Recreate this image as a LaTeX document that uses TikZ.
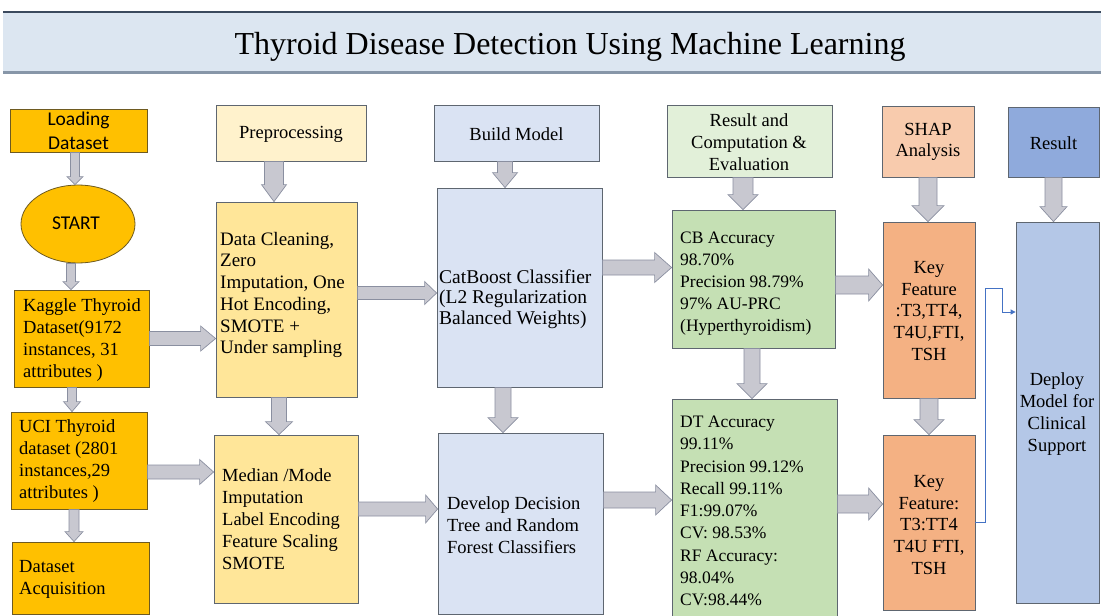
\documentclass[tikz,border=0pt]{standalone}
\usepackage{fontspec}
\setmainfont{Liberation Serif}
\newfontfamily\calfont{Carlito}
\usetikzlibrary{calc,arrows.meta,shapes.geometric}

\definecolor{orng}{HTML}{FFC000}
\definecolor{orline}{HTML}{6E5A20}
\definecolor{creamA}{HTML}{FFF2CC}
\definecolor{creamB}{HTML}{FFE699}
\definecolor{blueA}{HTML}{DAE3F3}
\definecolor{greenA}{HTML}{E2F0D9}
\definecolor{greenB}{HTML}{C5E0B4}
\definecolor{peachA}{HTML}{F8CBAD}
\definecolor{peachB}{HTML}{F4B183}
\definecolor{blueB}{HTML}{8FAADC}
\definecolor{blueC}{HTML}{B4C7E7}
\definecolor{boxline}{HTML}{5E6670}
\definecolor{arrfill}{HTML}{C8C8D0}
\definecolor{arrline}{HTML}{8A8FA0}
\definecolor{bannerfill}{HTML}{DCE6F1}
\definecolor{bannertop}{HTML}{3B4A5E}
\definecolor{bannerbot}{HTML}{8796A8}
\definecolor{linkblue}{HTML}{4472C4}

\tikzset{
  bx/.style={draw=boxline, line width=0.8pt, inner sep=0pt},
  obx/.style={draw=orline, line width=0.8pt, inner sep=0pt, fill=orng},
  txt/.style={inner sep=0pt, align=left, font=\fontsize{18.5}{22}\selectfont},
  ctxt/.style={inner sep=0pt, align=center, font=\fontsize{18.5}{21.7}\selectfont},
  ctext/.style={inner sep=0pt, align=center, font=\calfont\fontsize{19.5}{24.5}\selectfont},
  blk/.style={fill=arrfill, draw=arrline, line width=0.7pt, line join=miter},
  link/.style={draw=linkblue, line width=0.8pt, -{Triangle[length=5pt,width=5pt]}}
}

% block arrow core: uses coordinates baS (start) and baE (tip)
\newcommand{\barr}[3]{%
  \path ($(baE)!#3!(baS)$) coordinate (baH);
  \filldraw[blk] ($(baS)!#1!90:(baE)$) -- ($(baH)!#1!90:(baE)$) -- ($(baH)!#2!90:(baE)$) -- (baE)
     -- ($(baH)!#2!-90:(baE)$) -- ($(baH)!#1!-90:(baE)$) -- ($(baS)!#1!-90:(baE)$) -- cycle;}
\newcommand{\harr}[5]{\path #1 coordinate (baS); \path (baS -| #2) coordinate (baE); \barr{#3}{#4}{#5}}
\newcommand{\varr}[5]{\path #1 coordinate (baS); \path (baS |- #2) coordinate (baE); \barr{#3}{#4}{#5}}

\begin{document}
\begin{tikzpicture}[x=1pt,y=-1pt]
\useasboundingbox (0,0) rectangle (1101,616);
\fill[white] (0,0) rectangle (1101,616);

% banner
\node[fill=bannerfill, minimum width=1098pt, minimum height=60pt, inner sep=0pt, anchor=north west] (banner) at (3,12) {};
\draw[bannertop, line width=1.2pt] (banner.north west) -- (banner.north east);
\draw[bannerbot, line width=2.5pt] (banner.south west) -- (banner.south east);
\node[inner sep=0pt, anchor=base, font=\fontsize{32}{36}\selectfont] (title) at (570,54) {Thyroid Disease Detection Using Machine Learning};

% column 1
\node[obx, minimum width=137pt, minimum height=43pt] (load) at (78.5,130.5) {};
\node[ctext] (loadt) at (78.5,131) {Loading\\Dataset};
\node[ellipse, obx, minimum width=114pt, minimum height=78pt] (start) at (78,224) {};
\node[ctext] (startt) at (76,223) {START};
\node[obx, minimum width=135pt, minimum height=97pt] (kaggle) at (81.5,338.5) {};
\node[txt, anchor=west] (kagglet) at (23,340) {Kaggle Thyroid\\Dataset(9172\\instances, 31\\attributes )};
\node[obx, minimum width=136pt, minimum height=97pt] (uci) at (79,460.5) {};
\node[txt, anchor=west] (ucit) at (19,461) {UCI Thyroid\\dataset (2801\\instances,29\\attributes )};
\node[obx, minimum width=137pt, minimum height=72pt] (acq) at (80.5,578) {};
\node[txt, anchor=west] (acqt) at (19,579) {Dataset\\Acquisition};

% column 2
\node[bx, fill=creamA, minimum width=150pt, minimum height=56pt] (pre) at (291,133) {};
\node[ctxt] (pret) at (291,134) {Preprocessing};
\node[bx, fill=creamB, minimum width=141pt, minimum height=195pt] (dc) at (286.5,299.5) {};
\node[txt, anchor=west, font=\fontsize{19}{21.7}\selectfont] (dct) at (220,295) {Data Cleaning,\\Zero\\Imputation, One\\Hot Encoding,\\SMOTE +\\Under sampling};
\node[bx, fill=creamB, minimum width=144pt, minimum height=168pt] (med) at (286,519) {};
\node[txt, anchor=west] (medt) at (222,519) {Median /Mode\\Imputation\\Label Encoding\\Feature Scaling\\SMOTE};

% column 3
\node[bx, fill=blueA, minimum width=165pt, minimum height=56pt] (bm) at (516.5,133) {};
\node[ctxt] (bmt) at (516.5,134) {Build Model};
\node[bx, fill=blueA, minimum width=165pt, minimum height=199pt] (cat) at (519.5,287.5) {};
\node[txt, anchor=west, font=\fontsize{19.5}{20.5}\selectfont] (catt) at (439,299) {CatBoost Classifier\\(L2 Regularization\\Balanced Weights)};
\node[bx, fill=blueA, minimum width=165pt, minimum height=181pt] (dev) at (520.5,523.5) {};
\node[txt, anchor=west] (devt) at (447,525) {Develop Decision\\Tree and Random\\Forest Classifiers};

% column 4
\node[bx, fill=greenA, minimum width=165pt, minimum height=72pt] (rce) at (749.5,141) {};
\node[ctxt] (rcet) at (749,142) {Result and\\Computation \&\\Evaluation};
\node[bx, fill=greenB, minimum width=163pt, minimum height=138pt] (cb) at (753.5,279) {};
\node[txt, anchor=west, font=\fontsize{17.5}{22}\selectfont] (cbt) at (680,284) {CB Accuracy\\98.70\%\\Precision 98.79\%\\97\% AU-PRC\\(Hyperthyroidism)};
\node[bx, fill=greenB, minimum width=165pt, minimum height=219pt] (dt) at (754.5,508.5) {};
\node[txt, anchor=west, font=\fontsize{17.5}{22.25}\selectfont] (dtt) at (680,511) {DT Accuracy\\99.11\%\\Precision 99.12\%\\Recall 99.11\%\\F1:99.07\%\\CV: 98.53\%\\RF Accuracy:\\98.04\%\\CV:98.44\%};

% column 5
\node[bx, fill=peachA, minimum width=92pt, minimum height=71pt] (shap) at (928,141.5) {};
\node[ctxt] (shapt) at (928,142) {SHAP\\Analysis};
\node[bx, fill=peachB, minimum width=92pt, minimum height=176pt] (key1) at (929,310) {};
\node[ctxt] (key1t) at (929,311) {Key\\Feature\\:T3,TT4,\\T4U,FTI,\\TSH};
\node[bx, fill=peachB, minimum width=92pt, minimum height=175pt] (key2) at (929,522.5) {};
\node[ctxt] (key2t) at (929,525) {Key\\Feature:\\T3:TT4\\T4U FTI,\\TSH};

% column 6
\node[bx, fill=blueB, minimum width=91pt, minimum height=70pt] (res) at (1053.5,142) {};
\node[ctxt] (rest) at (1053.5,143) {Result};
\node[bx, fill=blueC, minimum width=83pt, minimum height=381pt] (dep) at (1057.5,412.5) {};
\node[ctxt] (dept) at (1057,414) {Deploy\\Model for\\Clinical\\Support};

% block arrows, column 1
\varr{([xshift=-3.5pt]load.south)}{start.north}{4.5pt}{8pt}{8pt}
\varr{([xshift=-7pt]start.south)}{kaggle.north}{4.5pt}{8pt}{8pt}
\varr{([xshift=-9.5pt]kaggle.south)}{uci.north}{4.5pt}{8.5pt}{10pt}
\varr{([xshift=-5pt]uci.south)}{acq.north}{5pt}{9pt}{10pt}
% horizontal arrows
\harr{(kaggle.east)}{dc.west}{7pt}{12.5pt}{15pt}
\harr{([yshift=-11.5pt]uci.east)}{med.west}{7pt}{12.5pt}{14pt}
\harr{([yshift=6.5pt]dc.east)}{cat.west}{6.5pt}{11.5pt}{12pt}
\harr{([yshift=10pt]med.east)}{dev.west}{7pt}{14pt}{12pt}
\harr{([yshift=20pt]cat.east)}{cb.west}{7.5pt}{15pt}{17pt}
\harr{([yshift=23.5pt]dev.east)}{dt.west}{8pt}{15pt}{16pt}
\harr{([yshift=-6pt]cb.east)}{key1.west}{9pt}{16pt}{14pt}
\harr{([yshift=4.5pt]dt.east)}{key2.west}{9pt}{16pt}{14pt}
% vertical arrows
\varr{([xshift=-17pt]pre.south)}{dc.north}{9.5pt}{12.5pt}{17pt}
\varr{([xshift=-7.5pt]dc.south)}{med.north}{7.5pt}{13.5pt}{13pt}
\varr{([xshift=-11.5pt]bm.south)}{cat.north}{7.5pt}{12.5pt}{15pt}
\varr{([xshift=-16.5pt]cat.south)}{dev.north}{8pt}{15pt}{15pt}
\varr{([xshift=-6.5pt]rce.south)}{cb.north}{10pt}{15pt}{15pt}
\varr{([xshift=-1.5pt]cb.south)}{dt.north}{8pt}{15pt}{15pt}
\varr{(shap.south)}{key1.north}{9pt}{16pt}{16pt}
\varr{(key1.south)}{key2.north}{9pt}{15pt}{15pt}
\varr{(res.south)}{dep.north}{8.5pt}{13.5pt}{15pt}

% thin link
\coordinate (lk1) at (985,288);
\coordinate (lk2) at (1002,312);
\draw[link] (key2.east) -| (lk1) -- (lk1 -| lk2) -- (lk2) -- (lk2 -| dep.west);
\end{tikzpicture}
\end{document}
